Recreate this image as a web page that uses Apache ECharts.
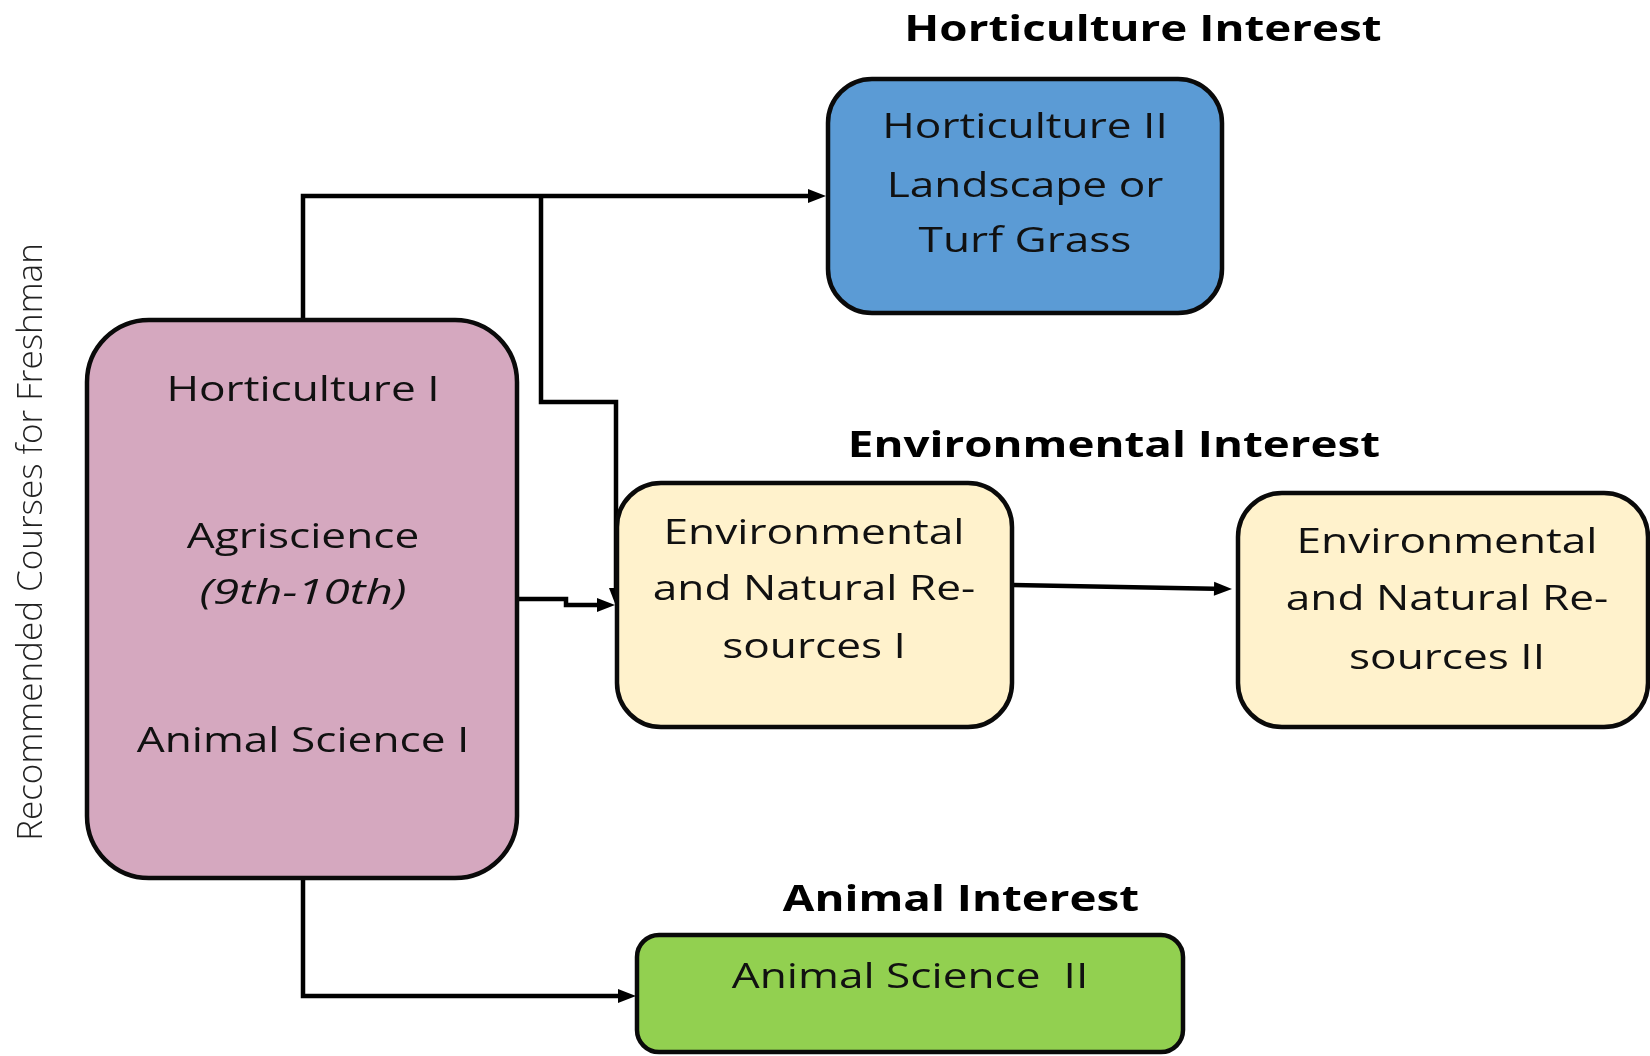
<!DOCTYPE html>
<html><head><meta charset="utf-8">
<script src="https://cdn.jsdelivr.net/npm/echarts/dist/echarts.min.js"></script>
<style>html,body{margin:0;padding:0;background:#fff}#c{width:1650px;height:1056px}</style>
</head><body><div id="c"></div>
<script>
// ---- Boxes (diagram units; axes map 1 unit = 1 px) ----
const boxNames  = ['freshman', 'horticulture2', 'environmental1', 'environmental2', 'animal2'];
const boxLeft   = [87, 828, 617, 1238, 637];
const boxTop    = [320, 79, 483, 493, 935];
const boxRight  = [517, 1222, 1012, 1648, 1183];
const boxBottom = [878, 313, 727, 727, 1052];

// ---- Text items ----
const textLines = ['Horticulture Interest', 'Environmental Interest', 'Animal Interest',
  'Horticulture II', 'Landscape or', 'Turf Grass',
  'Horticulture I', 'Agriscience', '(9th-10th)', 'Animal Science I',
  'Environmental', 'and Natural Re-', 'sources I',
  'Environmental', 'and Natural Re-', 'sources II',
  'Animal Science  II',
  'Recommended Courses for Freshman'];
const textX = [1143, 1114, 961, 1025, 1025, 1025, 303, 303, 303, 303, 814, 814, 814, 1447, 1447, 1447, 910, 32];
const textY = [31, 447, 901, 128, 187, 242, 391, 538, 594, 742, 534, 590, 648, 543, 600, 659, 978, 542];
const textKind = ['title', 'title', 'title', 'body', 'body', 'body', 'body', 'body', 'italic', 'body',
  'body', 'body', 'body', 'body', 'body', 'body', 'body', 'side'];

// ---- Connectors (polylines, arrow at last point) ----
const edgeFrom = ['freshman', 'freshman', 'freshman', 'environmental1', 'freshman'];
const edgeTo   = ['horticulture2', 'environmental1', 'environmental1', 'environmental2', 'animal2'];
const edgePoints = [
  [[303, 322], [303, 196], [826, 196]],
  [[541, 196], [541, 402], [616, 402], [616, 606]],
  [[519, 599], [566, 599], [566, 605], [615, 605]],
  [[1013, 585], [1232, 589]],
  [[303, 880], [303, 996], [636, 996]]
];

// ---- Styles ----
const boxFill = {freshman: '#D5A8BF', horticulture2: '#5B9BD5', environmental1: '#FFF2CC', environmental2: '#FFF2CC', animal2: '#92D050'};
const boxRadius = {freshman: 62, horticulture2: 44, environmental1: 44, environmental2: 44, animal2: 22};
const textStyle = {
  title:  {font: 'bold 36px "Open Sans"', scaleX: 1.27, color: '#000', rotation: 0},
  body:   {font: '34px "Open Sans"', scaleX: 1.3, color: '#111', rotation: 0},
  italic: {font: 'italic 34px "Open Sans"', scaleX: 1.4, color: '#111', rotation: 0},
  side:   {font: '300 35px "Open Sans"', scaleX: 1.0, color: '#222', rotation: Math.PI / 2}
};

const chart = echarts.init(document.getElementById('c'), null, {renderer: 'canvas'});
chart.setOption({
  animation: false,
  backgroundColor: '#ffffff',
  grid: {left: 0, right: 0, top: 0, bottom: 0, containLabel: false},
  xAxis: {type: 'value', min: 0, max: 1650, show: false},
  yAxis: {type: 'value', min: 0, max: 1056, inverse: true, show: false},
  series: [
    {
      type: 'custom', name: 'connectors', coordinateSystem: 'cartesian2d', z: 1, clip: false,
      data: edgePoints.map((pts, i) => [pts[pts.length - 1][0], pts[pts.length - 1][1], i]),
      renderItem: function (params, api) {
        const pts = edgePoints[params.dataIndex].map(p => api.coord(p));
        const tip = pts[pts.length - 1];
        const prev = pts[pts.length - 2];
        let dx = tip[0] - prev[0], dy = tip[1] - prev[1];
        const len = Math.sqrt(dx * dx + dy * dy);
        dx /= len; dy /= len;
        const L = 18, W = 7;
        const base = [tip[0] - dx * L, tip[1] - dy * L];
        const linePts = pts.slice(0, -1).concat([base]);
        return {
          type: 'group',
          children: [
            {type: 'polyline', shape: {points: linePts}, style: {stroke: '#000', lineWidth: 4.5, fill: null, lineJoin: 'miter'}},
            {type: 'polygon', shape: {points: [tip, [base[0] - dy * W, base[1] + dx * W], [base[0] + dy * W, base[1] - dx * W]]}, style: {fill: '#000'}}
          ]
        };
      }
    },
    {
      type: 'custom', name: 'boxes', coordinateSystem: 'cartesian2d', z: 2, clip: false,
      data: boxNames.map((n, i) => [boxLeft[i], boxTop[i], boxRight[i], boxBottom[i]]),
      encode: {x: [0, 2], y: [1, 3]},
      renderItem: function (params, api) {
        const i = params.dataIndex;
        const p1 = api.coord([api.value(0), api.value(1)]);
        const p2 = api.coord([api.value(2), api.value(3)]);
        const name = boxNames[i];
        return {
          type: 'rect',
          shape: {x: p1[0], y: p1[1], width: p2[0] - p1[0], height: p2[1] - p1[1], r: boxRadius[name]},
          style: {fill: boxFill[name], stroke: '#0a0a0a', lineWidth: 4.5}
        };
      }
    },
    {
      type: 'custom', name: 'texts', coordinateSystem: 'cartesian2d', z: 3, clip: false,
      data: textX.map((x, i) => [x, textY[i]]),
      renderItem: function (params, api) {
        const i = params.dataIndex;
        const p = api.coord([api.value(0), api.value(1)]);
        const st = textStyle[textKind[i]];
        return {
          type: 'text', x: p[0], y: p[1], rotation: st.rotation, scaleX: st.scaleX,
          style: {text: textLines[i], font: st.font, fill: st.color, align: 'center', verticalAlign: 'middle'}
        };
      }
    }
  ]
});
</script></body></html>
